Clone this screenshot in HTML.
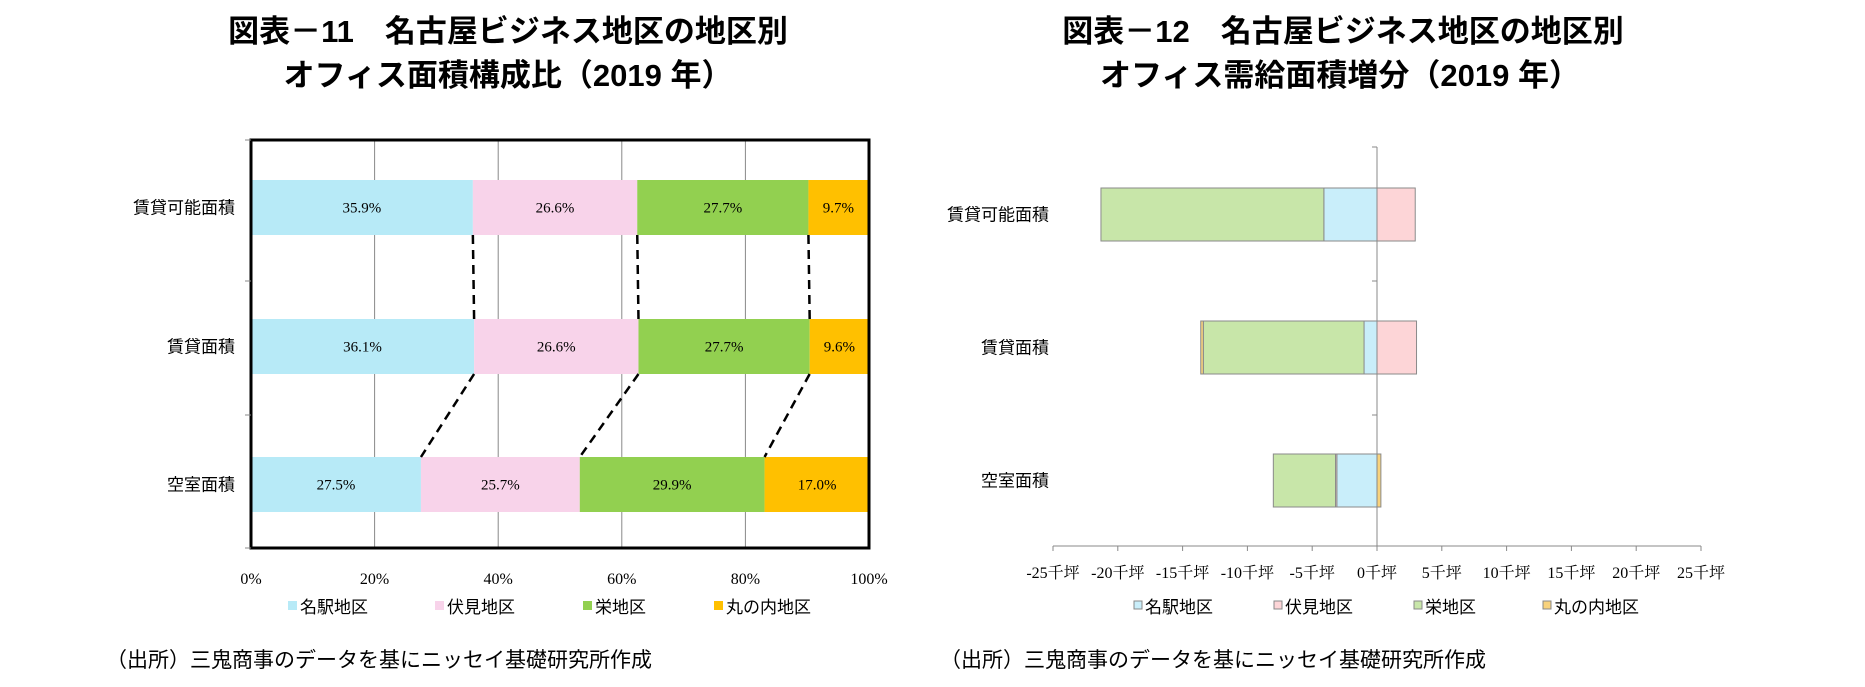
<!DOCTYPE html>
<html><head><meta charset="utf-8">
<style>
body{margin:0;background:#fff;}
svg{display:block;}
.t{font-family:"Liberation Sans","Noto Sans CJK JP",sans-serif;font-weight:bold;font-size:31px;fill:#000;}
.c{font-family:"Liberation Sans","Noto Sans CJK JP",sans-serif;font-size:17px;fill:#000;}
.lg{font-family:"Liberation Sans","Noto Sans CJK JP",sans-serif;font-size:17px;fill:#000;}
.n{font-family:"Liberation Serif","Noto Serif CJK SC",serif;font-size:16px;fill:#000;}
.v{font-family:"Liberation Serif","Noto Serif CJK SC",serif;font-size:15px;fill:#000;}
.s{font-family:"Liberation Sans","Noto Sans CJK JP",sans-serif;font-size:21px;fill:#000;}
</style></head><body>
<svg id="svg" width="1865" height="687" viewBox="0 0 1865 687" xmlns="http://www.w3.org/2000/svg">
<text class="t" x="508" y="42" text-anchor="middle">図表－11　名古屋ビジネス地区の地区別</text>
<text class="t" x="508" y="86" text-anchor="middle">オフィス面積構成比（2019 年）</text>
<text class="t" x="1343" y="42" text-anchor="middle">図表－12　名古屋ビジネス地区の地区別</text>
<text class="t" x="1340" y="86" text-anchor="middle">オフィス需給面積増分（2019 年）</text>
<text class="s" x="106" y="667">（出所）三鬼商事のデータを基にニッセイ基礎研究所作成</text>
<text class="s" x="940" y="667">（出所）三鬼商事のデータを基にニッセイ基礎研究所作成</text>
<g id="left"></g>
<g id="right"></g>
</svg>
<script>
const NS="http://www.w3.org/2000/svg";
const categories=["賃貸可能面積","賃貸面積","空室面積"];
const seriesNames=["名駅地区","伏見地区","栄地区","丸の内地区"];
const shareMeieki=[35.9,36.1,27.5];
const shareFushimi=[26.6,26.6,25.7];
const shareSakae=[27.7,27.7,29.9];
const shareMarunouchi=[9.7,9.6,17.0];
const pctTicks=[0,20,40,60,80,100];
const incMeieki=[-4.1,-1.0,-3.1];
const incFushimi=[2.95,3.05,-0.1];
const incSakae=[-17.2,-12.4,-4.8];
const incMarunouchi=[0,-0.2,0.3];
const kTicks=[-25,-20,-15,-10,-5,0,5,10,15,20,25];

function mk(tag,attrs,parent,txt){const e=document.createElementNS(NS,tag);for(const k in attrs)e.setAttribute(k,attrs[k]);if(txt!==undefined)e.textContent=txt;parent.appendChild(e);return e;}

// LEFT CHART
(function(){
const g=document.getElementById('left');
const L=251,R=869,T=140,B=548;
const x=v=>L+(R-L)*v/100;
const rowY=[180,319,457],bh=55;
const colors=["#b7eaf7","#f8d3ea","#92d050","#ffc000"];
const series=[shareMeieki,shareFushimi,shareSakae,shareMarunouchi];
pctTicks.forEach(t=>{const l=mk('line',{x1:x(t),x2:x(t),y1:T,y2:B,stroke:'#888','stroke-width':1},g);

const tx=mk('text',{x:x(t),y:584,'text-anchor':'middle',class:'n'},g,t+'%');
});
const bounds=[];
categories.forEach((c,i)=>{let cum=0;const b=[];
series.forEach((s,j)=>{const x0=x(cum),x1=x(cum+s[i]);
const r=mk('rect',{x:x0,y:rowY[i],width:x1-x0,height:bh,fill:colors[j]},g);

const tx=mk('text',{x:(x0+x1)/2,y:rowY[i]+bh/2+5,'text-anchor':'middle',class:'v'},g,s[i].toFixed(1)+'%');

cum+=s[i];b.push(x(cum));});
bounds.push(b);
const lb=mk('text',{x:235,y:rowY[i]+bh/2+6,'text-anchor':'end',class:'c'},g,c);
});
for(let i=0;i<2;i++)for(let k=0;k<3;k++){const l=mk('line',{x1:bounds[i][k],y1:rowY[i]+bh,x2:bounds[i+1][k],y2:rowY[i+1],stroke:'#000','stroke-width':2.5,'stroke-dasharray':'9,6'},g);
}
const fr=mk('rect',{x:L,y:T,width:R-L,height:B-T,fill:'none',stroke:'#000','stroke-width':3},g);

[140,281,415,548].forEach(y=>{const t=mk('line',{x1:245,x2:L,y1:y,y2:y,stroke:'#888'},g);});
const lx=[288,435,583,714];
seriesNames.forEach((n,j)=>{const r=mk('rect',{x:lx[j],y:601,width:9,height:9,fill:colors[j]},g);

const t=mk('text',{x:lx[j]+12,y:613,class:'lg'},g,n);
});
})();

// RIGHT CHART
(function(){
const g=document.getElementById('right');
const L=1053,R=1701,T=147,B=546;
const x=v=>L+(R-L)*(v+25)/50;
const rowY=[188,321,454],bh=53;
const colors=["#c9eefa","#fdd5d7","#c8e6a9","#f8d27c"];
const series=[incMeieki,incFushimi,incSakae,incMarunouchi];
categories.forEach((c,i)=>{let pos=0,neg=0;
series.forEach((s,j)=>{const v=s[i];if(v===0)return;let a,b;
if(v>0){a=pos;b=pos+v;pos=b;}else{a=neg+v;b=neg;neg=a;}
const r=mk('rect',{x:x(a),y:rowY[i],width:x(b)-x(a),height:bh,fill:colors[j],stroke:'#8a8a8a','stroke-width':1},g);
});
const lb=mk('text',{x:1049,y:rowY[i]+bh/2+6,'text-anchor':'end',class:'c'},g,c);
});
const ax=mk('line',{x1:x(0),x2:x(0),y1:T,y2:B,stroke:'#888'},g);
[T,281,415].forEach(y=>{const t=mk('line',{x1:x(0)-5,x2:x(0),y1:y,y2:y,stroke:'#888'},g);});
const xa=mk('line',{x1:L,x2:R,y1:B,y2:B,stroke:'#888'},g);
kTicks.forEach(t=>{const l=mk('line',{x1:x(t),x2:x(t),y1:B,y2:B+5,stroke:'#888'},g);
const tx=mk('text',{x:x(t),y:578,'text-anchor':'middle',class:'n'},g,t+'千坪');});
const lx=[1134,1274,1414,1543];
seriesNames.forEach((n,j)=>{const r=mk('rect',{x:lx[j],y:601,width:8,height:8,fill:colors[j],stroke:'#888'},g);

const t=mk('text',{x:lx[j]+11,y:613,class:'lg'},g,n);
});
})();
</script>
</body></html>
